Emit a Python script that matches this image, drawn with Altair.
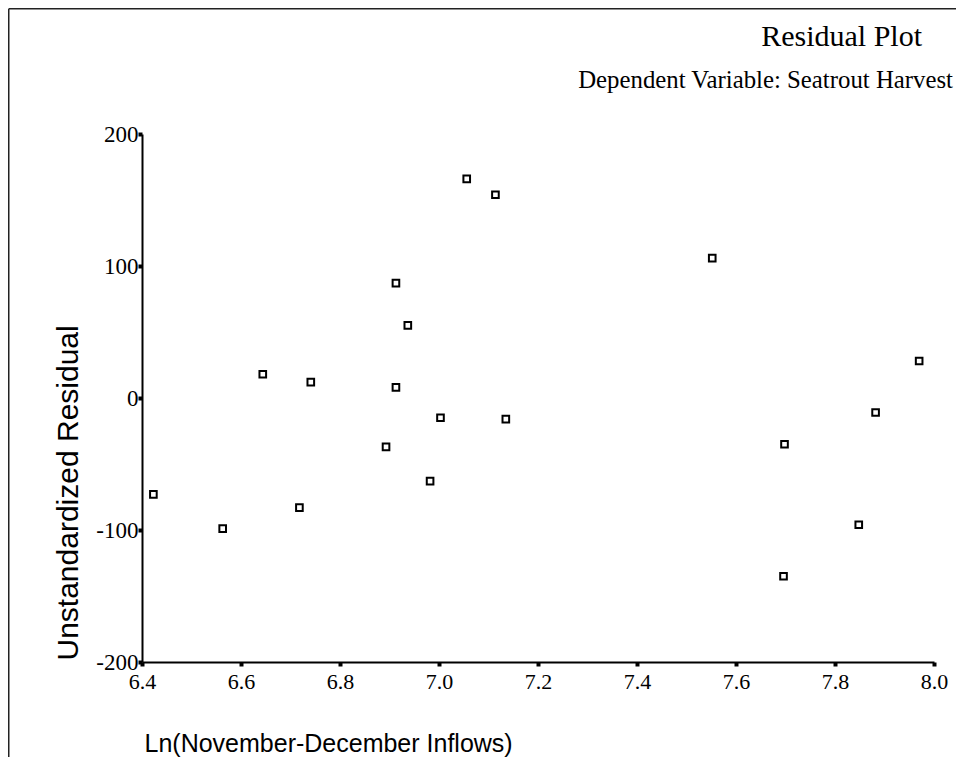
import altair as alt
import pandas as pd

# Data
ln_inflows = [6.423, 6.563, 6.644, 6.718, 6.741, 6.893, 6.913, 6.913, 6.937, 6.982,
              7.003, 7.056, 7.114, 7.135, 7.552, 7.698, 7.696, 7.848, 7.882, 7.970]
residuals = [-73, -99, 18, -83, 12, -37, 87, 8, 55, -63,
             -15, 166, 154, -16, 106, -35, -135, -96, -11, 28]

x_ticks = [6.4, 6.6, 6.8, 7.0, 7.2, 7.4, 7.6, 7.8, 8.0]
y_ticks = [-200, -100, 0, 100, 200]

title_text = ["Residual Plot"]
subtitle_text = ["Dependent Variable: Seatrout Harvest"]
x_title = "Ln(November-December Inflows)"
y_title = "Unstandardized Residual"

df = pd.DataFrame({"x": ln_inflows, "y": residuals})

SERIF = "Liberation Serif"
SANS = "Liberation Sans"

W, H = 792, 528
PAD_L, PAD_T, PAD_R, PAD_B = 134, 126, 22, 95

points = alt.Chart(df).mark_point(
    shape="square", filled=False, size=44, strokeWidth=2, color="black", opacity=1
).encode(
    x=alt.X("x:Q", scale=alt.Scale(domain=[6.4, 8.0], nice=False, zero=False),
            axis=alt.Axis(values=x_ticks, format=".1f", grid=False, labelFlush=False,
                          title=x_title,
                          titleFont=SANS, titleFontSize=25, titleFontWeight="normal",
                          titleAnchor="start", titleAlign="left", titleX=2, titleY=81,
                          titleBaseline="middle",
                          labelFont=SERIF, labelFontSize=22, labelPadding=5, labelOverlap=False,
                          labelColor="black", titleColor="black",
                          domainColor="black", domainWidth=2,
                          tickColor="black", tickSize=4, tickWidth=4)),
    y=alt.Y("y:Q", scale=alt.Scale(domain=[-200, 200], nice=False),
            axis=alt.Axis(values=y_ticks, grid=False, labelFlush=False, labelOverlap=False,
                          labelExpr="datum.value < 0 ? '-' + abs(datum.value) : '' + datum.value",
                          title=y_title,
                          titleFont=SANS, titleFontSize=30, titleFontWeight="normal",
                          titleAngle=270, titleAlign="left", titleBaseline="middle",
                          titleX=-74, titleY=H - 2,
                          labelFont=SERIF, labelFontSize=23, labelPadding=0,
                          labelColor="black", titleColor="black",
                          domainColor="black", domainWidth=2,
                          tickColor="black", tickSize=4, tickWidth=4)),
)

title_mark = alt.Chart(pd.DataFrame({"t": title_text})).mark_text(
    font=SERIF, fontSize=30, align="right", baseline="alphabetic", color="black"
).encode(text="t:N", x=alt.value(W - 12), y=alt.value(-88))

subtitle_mark = alt.Chart(pd.DataFrame({"t": subtitle_text})).mark_text(
    font=SERIF, fontSize=24.8, align="right", baseline="alphabetic", color="black"
).encode(text="t:N", x=alt.value(W + 19), y=alt.value(-46))

# scan frame (left and top border lines)
frame_left = alt.Chart(df.head(1)).mark_rule(color="#222", strokeWidth=1.5).encode(
    x=alt.value(-PAD_L + 0.75), y=alt.value(-PAD_T + 0.75), y2=alt.value(H + PAD_B))
frame_top = alt.Chart(df.head(1)).mark_rule(color="#222", strokeWidth=1.5).encode(
    x=alt.value(-PAD_L + 0.75), x2=alt.value(W + PAD_R), y=alt.value(-PAD_T + 0.75))

chart = alt.layer(points, title_mark, subtitle_mark, frame_left, frame_top).properties(
    width=W, height=H,
    autosize=alt.AutoSizeParams(type="none"),
    padding={"left": PAD_L, "top": PAD_T, "right": PAD_R, "bottom": PAD_B},
).configure(background="white", view=alt.ViewConfig(strokeWidth=0, stroke="transparent"))

chart.save("out.html", embed_options={"renderer": "svg", "actions": False})
